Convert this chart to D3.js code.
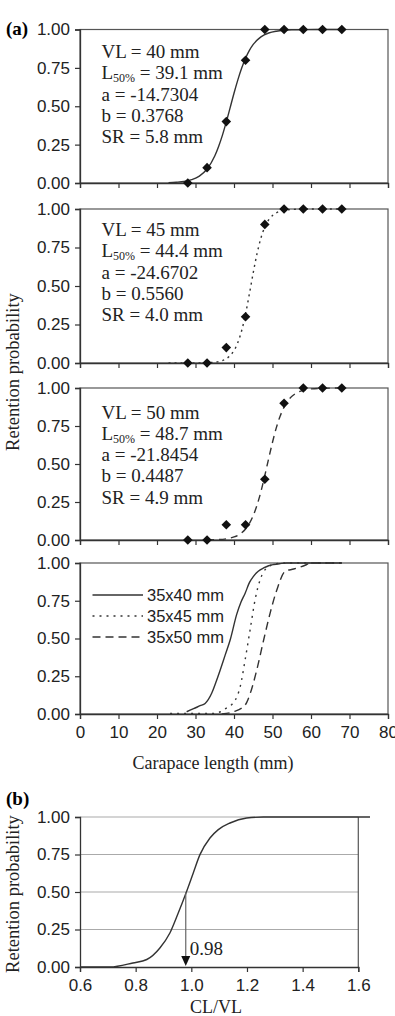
<!DOCTYPE html>
<html>
<head>
<meta charset="utf-8">
<script src="https://cdn.jsdelivr.net/npm/d3@7"></script>
<style>
  html, body { margin: 0; padding: 0; background: #fff; }
  svg { display: block; }
</style>
</head>
<body>
<div id="chart"></div>
<script>
// ---- data ----
const xTicks = [0, 10, 20, 30, 40, 50, 60, 70, 80];
const yTicks = [0, 0.25, 0.5, 0.75, 1];

// observed retention (diamonds), same lengths for every mesh
const obsLength = [28, 33, 38, 43, 48, 53, 58, 63, 68];
const obs40 = [0, 0.1, 0.4, 0.8, 1, 1, 1, 1, 1];
const obs45 = [0, 0, 0.1, 0.3, 0.9, 1, 1, 1, 1];
const obs50 = [0, 0, 0.1, 0.1, 0.4, 0.9, 1, 1, 1];

// fitted curves
const fitLen40 = [23, 25, 27, 29, 31, 33, 35, 36, 37, 38, 39, 40, 41, 42, 43, 44, 45, 47, 49, 51, 53, 55, 58, 63, 68];
const fit40 = [0.002, 0.005, 0.010, 0.022, 0.045, 0.091, 0.176, 0.238, 0.312, 0.398, 0.491, 0.585, 0.672, 0.749, 0.813, 0.864, 0.903, 0.952, 0.977, 0.989, 0.995, 0.998, 0.999, 1, 1];
const fitLen45 = [23, 28, 33, 35, 37, 38, 39, 40, 41, 42, 43, 44, 45, 46, 47, 48, 49, 50, 52, 54, 57, 60, 68];
const fit45 = [0, 0, 0.002, 0.005, 0.016, 0.028, 0.048, 0.081, 0.133, 0.211, 0.318, 0.449, 0.587, 0.712, 0.812, 0.883, 0.929, 0.958, 0.986, 0.995, 0.999, 1, 1];
const fitLen50 = [33, 36, 38, 40, 42, 43, 44, 45, 46, 47, 48, 49, 50, 51, 52, 53, 54, 56, 58, 60, 63, 68];
const fit50 = [0.001, 0.003, 0.008, 0.020, 0.047, 0.072, 0.109, 0.161, 0.231, 0.319, 0.424, 0.535, 0.643, 0.739, 0.816, 0.874, 0.916, 0.964, 0.985, 0.994, 0.998, 1];

// panel 4: the three curves together
const cmpLen40 = [27.7, 29.5, 31.2, 32.5, 34.2, 35.3, 36.4, 37.7, 39, 40.7, 41.8, 42.9, 44, 45, 46.3, 47.7, 49, 50.3, 52, 53.7, 60, 68];
const cmp40 = [0.015, 0.035, 0.055, 0.07, 0.137, 0.21, 0.29, 0.39, 0.49, 0.66, 0.74, 0.8, 0.87, 0.91, 0.945, 0.967, 0.982, 0.99, 0.996, 1, 1, 1];
const cmpLen45 = [23.4, 34.7, 36.5, 38.1, 39.3, 40.3, 41.6, 42.9, 44.2, 45.5, 46.8, 48.5, 51.1, 53.7, 60, 68];
const cmp45 = [0.004, 0.004, 0.015, 0.04, 0.06, 0.09, 0.18, 0.36, 0.56, 0.76, 0.89, 0.967, 0.996, 1, 1, 1];
const cmpLen50 = [36.8, 39.9, 42.9, 44.2, 45.9, 47.7, 49.4, 51.1, 53.3, 55.5, 58, 60.2, 68];
const cmp50 = [0, 0.015, 0.06, 0.135, 0.29, 0.49, 0.67, 0.82, 0.945, 0.96, 0.98, 1, 1];
const legendNames = ["35x40 mm", "35x45 mm", "35x50 mm"];

// panel (b)
const ratioTicks = [0.6, 0.8, 1.0, 1.2, 1.4, 1.6];
const ratio = [0.6, 0.708, 0.79, 0.84, 0.887, 0.923, 0.953, 0.983, 1.007, 1.031, 1.067, 1.097, 1.139, 1.199, 1.259, 1.642];
const ratioProb = [0, 0, 0.027, 0.05, 0.127, 0.227, 0.36, 0.504, 0.627, 0.749, 0.86, 0.916, 0.96, 0.993, 1, 1];
const ratio50 = 0.98;

const paramText = [
  ["VL = 40 mm", "39.1 mm", "a = -14.7304", "b = 0.3768", "SR = 5.8 mm"],
  ["VL = 45 mm", "44.4 mm", "a = -24.6702", "b = 0.5560", "SR = 4.0 mm"],
  ["VL = 50 mm", "48.7 mm", "a = -21.8454", "b = 0.4487", "SR = 4.9 mm"]
];

// ---- layout ----
const W = 395, H = 1016;
const LEFT = 80, RIGHT = 388;
const panelTops = [29.5, 209, 388, 563];
const panelBots = [183, 363, 540, 714];
const textTop = [28.5, 27, 30.5];
const SANS = "'Liberation Sans', Arial, sans-serif";
const SERIF = "'Liberation Serif', 'Times New Roman', serif";
const INK = "#333";

const svg = d3.select("#chart").append("svg")
  .attr("width", W).attr("height", H);

const x = d3.scaleLinear().domain([0, 80]).range([LEFT, RIGHT]);

function drawFrame(y, labels) {
  const g = svg.append("g");
  g.append("rect")
    .attr("x", LEFT).attr("y", y.range()[1])
    .attr("width", RIGHT - LEFT).attr("height", y.range()[0] - y.range()[1])
    .attr("fill", "none").attr("stroke", "#555").attr("stroke-width", 1.2);
  const yAxis = g.append("g").attr("transform", `translate(${LEFT},0)`)
    .call(d3.axisLeft(y).tickValues(yTicks).tickFormat(d3.format(".2f")).tickSize(5).tickPadding(5));
  const xAxis = g.append("g").attr("transform", `translate(0,${y.range()[0]})`)
    .call(d3.axisBottom(x).tickValues(xTicks).tickSize(5).tickPadding(7)
      .tickFormat(labels ? d3.format("d") : () => ""));
  [yAxis, xAxis].forEach(a => {
    a.select(".domain").attr("stroke", INK).attr("stroke-width", 1.3);
    a.selectAll(".tick line").attr("stroke", INK).attr("stroke-width", 1.2);
    a.selectAll("text").attr("font-family", SANS).attr("font-size", 17).attr("fill", "#222");
  });
  return g;
}

const dashes = [null, "2,4", "7,5"];
const fits = [[fitLen40, fit40], [fitLen45, fit45], [fitLen50, fit50]];
const obs = [obs40, obs45, obs50];

for (let i = 0; i < 3; i++) {
  const y = d3.scaleLinear().domain([0, 1]).range([panelBots[i], panelTops[i]]);
  drawFrame(y, false);
  const line = d3.line().x(d => x(d[0])).y(d => y(d[1])).curve(d3.curveMonotoneX);
  svg.append("path")
    .datum(d3.zip(fits[i][0], fits[i][1]))
    .attr("d", line)
    .attr("fill", "none").attr("stroke", INK).attr("stroke-width", 1.4)
    .attr("stroke-dasharray", dashes[i]);
  svg.append("g").selectAll("path")
    .data(d3.zip(obsLength, obs[i]))
    .join("path")
    .attr("d", d3.symbol(d3.symbolSquare, 46))
    .attr("transform", d => `translate(${x(d[0])},${y(d[1])}) rotate(45)`)
    .attr("fill", "#111");
  const t = svg.append("g").attr("font-family", SERIF).attr("font-size", 19).attr("fill", "#222");
  paramText[i].forEach((s, k) => {
    const tx = t.append("text").attr("x", 101.5).attr("y", panelTops[i] + textTop[i] + k * 21.3);
    if (k === 1) {
      tx.append("tspan").text("L");
      tx.append("tspan").attr("font-size", 12).attr("dy", 3).text("50%");
      tx.append("tspan").attr("dy", -3).text(" = " + s);
    } else {
      tx.text(s);
    }
  });
}

// panel 4 — all three curves
{
  const y = d3.scaleLinear().domain([0, 1]).range([panelBots[3], panelTops[3]]);
  drawFrame(y, true);
  const line = d3.line().x(d => x(d[0])).y(d => y(d[1])).curve(d3.curveMonotoneX);
  const cmp = [[cmpLen40, cmp40], [cmpLen45, cmp45], [cmpLen50, cmp50]];
  const legDash = [null, "2,5", "8,5"];
  cmp.forEach((c, i) => {
    svg.append("path")
      .datum(d3.zip(c[0], c[1]))
      .attr("d", line)
      .attr("fill", "none").attr("stroke", INK).attr("stroke-width", 1.4)
      .attr("stroke-dasharray", legDash[i]);
  });
  const leg = svg.append("g");
  legendNames.forEach((name, i) => {
    const ly = panelTops[3] + 32 + i * 21;
    leg.append("line")
      .attr("x1", 92.5).attr("x2", 143).attr("y1", ly).attr("y2", ly)
      .attr("stroke", INK).attr("stroke-width", 1.4)
      .attr("stroke-dasharray", legDash[i]);
    leg.append("text")
      .attr("x", 147).attr("y", ly).attr("dy", "0.35em")
      .attr("font-family", SANS).attr("font-size", 16.5).attr("fill", "#222")
      .text(name);
  });
  svg.append("text")
    .attr("x", 213).attr("y", 769)
    .attr("text-anchor", "middle")
    .attr("font-family", SERIF).attr("font-size", 18).attr("fill", "#222")
    .text("Carapace length (mm)");
}

// shared labels for (a)
svg.append("text").attr("x", 6).attr("y", 35)
  .attr("font-family", SERIF).attr("font-size", 19).attr("font-weight", "bold")
  .text("(a)");
svg.append("text")
  .attr("transform", "translate(19,372) rotate(-90)")
  .attr("text-anchor", "middle")
  .attr("font-family", SERIF).attr("font-size", 18.5).attr("fill", "#222")
  .text("Retention probability");

// ---- panel (b) ----
{
  const bLeft = 80, bRight = 358.3, bTop = 817, bBot = 967;
  const xb = d3.scaleLinear().domain([0.6, 1.6]).range([bLeft, bRight]);
  const yb = d3.scaleLinear().domain([0, 1]).range([bBot, bTop]);

  svg.append("g").selectAll("line")
    .data(yTicks.filter(d => d > 0))
    .join("line")
    .attr("x1", bLeft).attr("x2", bRight)
    .attr("y1", d => yb(d)).attr("y2", d => yb(d))
    .attr("stroke", "#aaa").attr("stroke-width", 1.2);
  svg.append("line")
    .attr("x1", bRight).attr("x2", bRight).attr("y1", bTop).attr("y2", bBot)
    .attr("stroke", "#555").attr("stroke-width", 1.2);

  const ya = svg.append("g").attr("transform", `translate(${bLeft},0)`)
    .call(d3.axisLeft(yb).tickValues(yTicks).tickFormat(d3.format(".2f")).tickSize(5).tickPadding(5));
  const xa = svg.append("g").attr("transform", `translate(0,${bBot})`)
    .call(d3.axisBottom(xb).tickValues(ratioTicks).tickFormat(d3.format(".1f")).tickSize(5).tickPadding(7));
  [ya, xa].forEach(a => {
    a.select(".domain").attr("stroke", INK).attr("stroke-width", 1.3);
    a.selectAll(".tick line").attr("stroke", INK).attr("stroke-width", 1.2);
    a.selectAll("text").attr("font-family", SANS).attr("font-size", 17).attr("fill", "#222");
  });

  svg.append("path")
    .datum(d3.zip(ratio, ratioProb))
    .attr("d", d3.line().x(d => xb(d[0])).y(d => yb(d[1])).curve(d3.curveMonotoneX))
    .attr("fill", "none").attr("stroke", INK).attr("stroke-width", 1.4);

  // arrow down from the 50% point
  const ax = xb(ratio50);
  svg.append("line")
    .attr("x1", ax).attr("x2", ax).attr("y1", yb(0.5)).attr("y2", bBot - 8)
    .attr("stroke", "#666").attr("stroke-width", 1.2);
  svg.append("path")
    .attr("d", `M${ax - 4.5},${bBot - 11} L${ax + 4.5},${bBot - 11} L${ax},${bBot - 1} Z`)
    .attr("fill", "#111");
  svg.append("text")
    .attr("x", ax + 4).attr("y", 955)
    .attr("font-family", SERIF).attr("font-size", 19).attr("fill", "#222")
    .text(ratio50.toFixed(2));

  svg.append("text").attr("x", 6).attr("y", 805)
    .attr("font-family", SERIF).attr("font-size", 19).attr("font-weight", "bold")
    .text("(b)");
  svg.append("text")
    .attr("transform", `translate(19,${(bTop + bBot) / 2 + 2}) rotate(-90)`)
    .attr("text-anchor", "middle")
    .attr("font-family", SERIF).attr("font-size", 18.5).attr("fill", "#222")
    .text("Retention probability");
  svg.append("text")
    .attr("x", 216).attr("y", 1013)
    .attr("text-anchor", "middle")
    .attr("font-family", SERIF).attr("font-size", 18).attr("fill", "#222")
    .text("CL/VL");
}
</script>
</body>
</html>
